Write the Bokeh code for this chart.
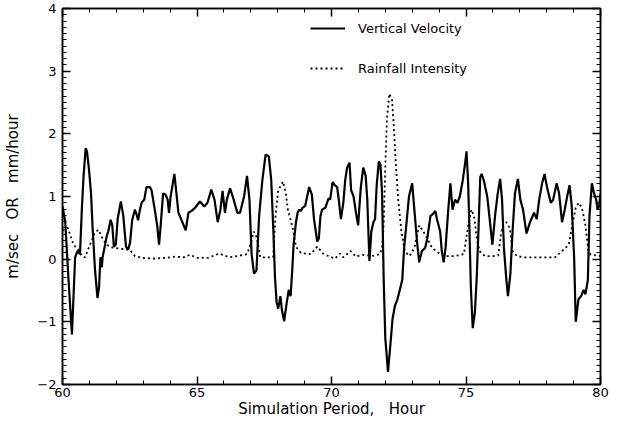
from bokeh.plotting import figure
from bokeh.models import (Range1d, FixedTicker, LinearAxis, Legend, LegendItem,
                          CustomJSTickFormatter, ColumnDataSource)
from bokeh.embed import file_html
from bokeh.resources import INLINE

# ---- data ----
vv_t = [60.00, 60.10, 60.22, 60.35, 60.47, 60.56, 60.65, 60.72, 60.78, 60.86, 60.91, 60.99,
        61.06, 61.12, 61.21, 61.30, 61.36, 61.41, 61.46, 61.49, 61.56, 61.65, 61.70, 61.79,
        61.85, 61.91, 61.98, 62.05, 62.17, 62.26, 62.36, 62.44, 62.51, 62.59, 62.69, 62.75,
        62.81, 62.88, 62.94, 63.04, 63.12, 63.25, 63.31, 63.43, 63.52, 63.59, 63.65, 63.74,
        63.83, 63.91, 63.96, 64.02, 64.16, 64.31, 64.43, 64.58, 64.68, 64.80, 64.93, 65.11,
        65.27, 65.39, 65.53, 65.65, 65.77, 65.87, 65.95, 66.04, 66.11, 66.23, 66.35, 66.50,
        66.60, 66.75, 66.86, 66.95, 67.03, 67.12, 67.21, 67.31, 67.43, 67.55, 67.67, 67.76,
        67.84, 67.90, 67.96, 68.02, 68.10, 68.16, 68.24, 68.32, 68.41, 68.48, 68.54, 68.59,
        68.68, 68.74, 68.80, 68.86, 68.92, 69.02, 69.17, 69.27, 69.35, 69.47, 69.53, 69.59,
        69.65, 69.77, 69.89, 69.95, 70.04, 70.12, 70.21, 70.27, 70.35, 70.44, 70.51, 70.58,
        70.67, 70.73, 70.82, 70.91, 70.99, 71.09, 71.18, 71.27, 71.33, 71.41, 71.48, 71.56,
        71.62, 71.68, 71.76, 71.82, 71.88, 71.94, 72.00, 72.10, 72.19, 72.27, 72.36, 72.45,
        72.54, 72.63, 72.70, 72.78, 72.88, 73.00, 73.08, 73.18, 73.26, 73.36, 73.48, 73.56,
        73.68, 73.77, 73.86, 73.92, 74.04, 74.10, 74.17, 74.24, 74.34, 74.42, 74.50, 74.59,
        74.68, 74.77, 74.88, 74.96, 75.02, 75.08, 75.13, 75.18, 75.25, 75.33, 75.40, 75.47,
        75.53, 75.58, 75.66, 75.79, 75.88, 75.98, 76.08, 76.18, 76.27, 76.34, 76.41, 76.50,
        76.56, 76.65, 76.73, 76.82, 76.93, 77.02, 77.12, 77.25, 77.38, 77.53, 77.63, 77.72,
        77.83, 77.92, 78.02, 78.15, 78.24, 78.37, 78.46, 78.57, 78.67, 78.76, 78.85, 78.93,
        79.02, 79.08, 79.18, 79.28, 79.37, 79.44, 79.53, 79.59, 79.68, 79.76, 79.84, 79.89,
        79.95, 80.00]
vv = [0.85, 0.60, -0.30, -1.20, 0.03, 0.13, 0.08, 0.80, 1.30, 1.77, 1.72, 1.41,
      1.05, 0.49, -0.18, -0.62, -0.44, 0.03, -0.13, 0.03, 0.18, 0.38, 0.44, 0.63,
      0.54, 0.20, 0.23, 0.64, 0.92, 0.69, 0.20, 0.15, 0.26, 0.62, 0.79, 0.72,
      0.62, 0.79, 0.90, 0.95, 1.15, 1.15, 1.10, 0.79, 0.54, 0.23, 0.54, 1.05,
      1.03, 0.95, 0.74, 1.00, 1.36, 0.74, 0.62, 0.46, 0.74, 0.77, 0.82, 0.92,
      0.84, 0.90, 1.11, 0.95, 0.59, 0.79, 1.09, 0.74, 0.95, 1.13, 0.97, 0.74,
      0.74, 1.00, 1.33, 0.95, 0.08, -0.23, -0.18, 0.69, 1.26, 1.67, 1.64, 1.26,
      0.44, -0.30, -0.69, -0.79, -0.59, -0.82, -0.99, -0.74, -0.49, -0.59, -0.18, 0.23,
      0.59, 0.74, 0.79, 0.77, 0.82, 0.85, 1.15, 1.03, 0.64, 0.28, 0.33, 0.69,
      0.79, 0.82, 0.97, 0.95, 1.23, 1.18, 1.15, 0.95, 0.64, 0.90, 1.26, 1.46,
      1.54, 1.10, 1.00, 0.74, 0.54, 1.15, 1.46, 1.33, 0.95, -0.03, 0.44, 0.59,
      0.64, 1.18, 1.56, 1.51, 1.05, -0.33, -1.26, -1.80, -1.36, -0.95, -0.74, -0.64,
      -0.49, -0.33, 0.18, 0.54, 1.00, 1.21, 0.79, 0.28, -0.05, 0.13, 0.18, 0.33,
      0.69, 0.72, 0.77, 0.64, 0.44, 0.13, -0.05, 0.18, 0.79, 1.21, 0.79, 0.95,
      0.90, 1.00, 1.26, 1.51, 1.72, 1.21, 0.44, -0.44, -1.10, -0.85, -0.28, 0.54,
      1.31, 1.36, 1.26, 1.00, 0.64, 0.23, 0.69, 1.05, 1.28, 0.95, 0.18, -0.33,
      -0.59, -0.23, 0.44, 1.05, 1.28, 0.95, 0.79, 0.41, 0.59, 0.74, 0.64, 0.95,
      1.21, 1.36, 1.13, 0.90, 0.95, 1.21, 1.05, 0.59, 0.79, 1.00, 1.18, 0.85,
      0.03, -1.00, -0.64, -0.59, -0.49, -0.56, -0.33, 0.69, 1.21, 1.05, 0.95, 0.79,
      0.85, 1.05]

rf_t = [60.00, 60.20, 60.41, 60.59, 60.72, 60.84, 61.02, 61.19, 61.33, 61.49, 61.64, 61.80,
        62.10, 62.50, 62.69, 62.94, 63.40, 63.80, 64.20, 64.50, 64.74, 65.00, 65.40, 65.83,
        66.20, 66.50, 66.86, 67.00, 67.11, 67.22, 67.35, 67.83, 67.92, 68.02, 68.20, 68.30,
        68.38, 68.56, 68.68, 68.86, 69.23, 69.47, 69.71, 70.13, 70.31, 70.44, 70.71, 70.91,
        71.15, 71.50, 71.80, 71.88, 71.94, 72.00, 72.06, 72.15, 72.25, 72.30, 72.40, 72.48,
        72.60, 72.72, 72.90, 73.08, 73.26, 73.40, 73.56, 73.74, 73.98, 74.22, 74.60, 74.92,
        75.10, 75.20, 75.30, 75.40, 75.50, 75.70, 76.00, 76.20, 76.30, 76.37, 76.50, 76.63,
        76.73, 76.89, 77.15, 78.31, 78.57, 78.82, 78.95, 79.08, 79.19, 79.31, 79.44, 79.55,
        79.64, 80.00]
rf = [0.46, 0.50, 0.23, 0.15, 0.05, 0.03, 0.23, 0.41, 0.47, 0.33, 0.23, 0.19,
      0.17, 0.15, 0.05, 0.02, 0.01, 0.02, 0.04, 0.03, 0.07, 0.02, 0.02, 0.09,
      0.03, 0.05, 0.08, 0.25, 0.44, 0.35, 0.03, 0.03, 0.70, 1.10, 1.24, 1.05,
      0.79, 0.49, 0.20, 0.10, 0.08, 0.20, 0.08, 0.01, 0.09, 0.03, 0.13, 0.04,
      0.07, 0.05, 0.08, 0.18, 0.54, 1.46, 2.23, 2.64, 2.54, 2.23, 1.46, 0.95,
      0.44, 0.13, 0.05, 0.18, 0.54, 0.45, 0.33, 0.18, 0.10, 0.05, 0.05, 0.08,
      0.59, 0.79, 0.69, 0.33, 0.13, 0.05, 0.05, 0.06, 0.40, 0.54, 0.59, 0.49,
      0.13, 0.05, 0.03, 0.03, 0.13, 0.23, 0.54, 0.82, 0.90, 0.82, 0.54, 0.13,
      0.07, 0.05]

x_major = [60, 65, 70, 75, 80]
x_minor = list(range(60, 81))
y_major = [-2, -1, 0, 1, 2, 3, 4]
y_minor = [round(-2 + 0.1 * i, 1) for i in range(61)]

series_names = ["Vertical Velocity", "Rainfall Intensity"]
NB = "\u00a0"
x_title = "Simulation Period," + NB * 3 + "Hour"
y_title = "m/sec" + NB * 3 + "OR" + NB * 3 + "mm/hour"

FONT = "DejaVu Sans"

p = figure(width=609, height=420, output_backend="svg", toolbar_location=None,
           x_range=Range1d(60, 80), y_range=Range1d(-2, 4),
           min_border_left=62, min_border_right=9, min_border_top=8, min_border_bottom=34)
p.xgrid.visible = False
p.ygrid.visible = False
p.outline_line_color = "black"
p.outline_line_width = 1.5
p.background_fill_color = "white"
p.border_fill_color = "white"

s1 = ColumnDataSource(dict(t=vv_t, v=vv))
s2 = ColumnDataSource(dict(t=rf_t, v=rf))
r1 = p.line("t", "v", source=s1, line_color="black", line_width=2.2)
r2 = p.line("t", "v", source=s2, line_color="black", line_width=1.8, line_dash="2 3")

def style(ax):
    ax.axis_line_color = "black"
    ax.axis_line_width = 1.5
    ax.major_tick_in = 8
    ax.major_tick_out = 0
    ax.minor_tick_in = 4
    ax.minor_tick_out = 0
    ax.major_tick_line_width = 1.5
    ax.minor_tick_line_width = 1
    ax.major_tick_line_color = "black"
    ax.minor_tick_line_color = "black"
    ax.major_label_text_font = FONT
    ax.major_label_text_font_size = "13px"
    ax.major_label_text_color = "black"
    ax.axis_label_text_font = FONT
    ax.axis_label_text_font_size = "15px"
    ax.axis_label_text_font_style = "normal"
    ax.axis_label_text_color = "black"

xa = p.xaxis[0]
xa.ticker = FixedTicker(ticks=x_major, minor_ticks=x_minor)
xa.axis_label = x_title
style(xa)
xa.major_label_standoff = 3
xa.axis_label_standoff = 0

ya = p.yaxis[0]
ya.ticker = FixedTicker(ticks=y_major, minor_ticks=y_minor)
ya.axis_label = y_title
style(ya)
ya.major_label_standoff = 6
ya.axis_label_standoff = 12

blank = CustomJSTickFormatter(code="return ''")
top = LinearAxis(ticker=FixedTicker(ticks=x_major, minor_ticks=x_minor), formatter=blank)
style(top)
top.major_label_standoff = 0
p.add_layout(top, "above")
right = LinearAxis(ticker=FixedTicker(ticks=y_major, minor_ticks=y_minor), formatter=blank)
style(right)
right.major_label_standoff = 0
p.add_layout(right, "right")

legend = Legend(items=[LegendItem(label=series_names[0], renderers=[r1]),
                       LegendItem(label=series_names[1], renderers=[r2])],
                location=(248, 306), padding=0, margin=0, spacing=20,
                glyph_width=35, glyph_height=20, label_standoff=13,
                label_text_font=FONT, label_text_font_size="13px",
                label_text_color="black",
                border_line_alpha=0, background_fill_alpha=0)
p.add_layout(legend)

open("out.html", "w").write(file_html(p, INLINE))
